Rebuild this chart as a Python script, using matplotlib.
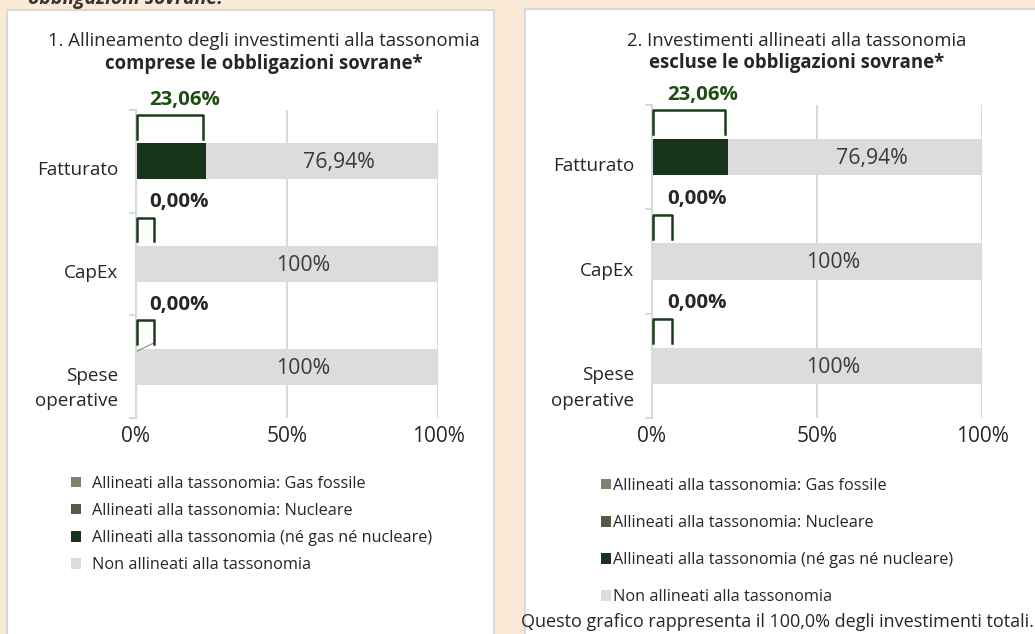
import numpy as np
import matplotlib
matplotlib.use("Agg")
import matplotlib.pyplot as plt
from matplotlib.patches import Rectangle
from matplotlib.transforms import ScaledTranslation

plt.rcParams['font.family'] = ['Open Sans', 'DejaVu Sans']

# dati tassonomia (%)
categorie = ['Fatturato', 'CapEx', 'Spese\noperative']
gas_fossile = [0.0, 0.0, 0.0]
nucleare = [0.0, 0.0, 0.0]
allineati = [23.06, 0.0, 0.0]
non_allineati = [76.94, 100.0, 100.0]

serie = ['Allineati alla tassonomia: Gas fossile',
         'Allineati alla tassonomia: Nucleare',
         'Allineati alla tassonomia (né gas né nucleare)',
         'Non allineati alla tassonomia']
colori = ['#7b8471', '#515c4b', '#17341a', '#dcdcde']

titoli = [('1. Allineamento degli investimenti alla tassonomia', 'comprese le obbligazioni sovrane*'),
          ('2. Investimenti allineati alla tassonomia', 'escluse le obbligazioni sovrane*')]

W, H = 1035, 634
BG = '#fae9d6'
GRIGIO = '#d9d9d9'
VERDE = '#1e4d14'
TESTO = '#262626'


def fx(px):
    return px / W


def fy(py):
    return 1 - py / H


def pct(v):
    if float(v).is_integer():
        return '%d%%' % v
    return ('%.2f%%' % v).replace('.', ',')


def pct2(v):
    return ('%.2f%%' % v).replace('.', ',')


fig = plt.figure(figsize=(W / 100, H / 100), dpi=100, facecolor=BG)

# riquadri bianchi
fig.add_artist(Rectangle((fx(7), -0.02), fx(487), fy(10) + 0.02, transform=fig.transFigure,
                         facecolor='white', edgecolor=GRIGIO, lw=1.5, zorder=-1))
fig.add_artist(Rectangle((fx(525), -0.02), fx(520), fy(9) + 0.02, transform=fig.transFigure,
                         facecolor='white', edgecolor=GRIGIO, lw=1.5, zorder=-1))

fig.text(fx(28), fy(4), 'obbligazioni sovrane.', fontsize=14, fontweight='bold',
         fontstyle='italic', color='#333333', va='baseline')

pannelli = [
    dict(ax=[136, 110, 438, 418], cx=264, t1=41, t2=64, leg=(71, 476), lsp=0.68, htp=0.7),
    dict(ax=[652, 105, 982, 418], cx=797, t1=41, t2=63, leg=(601, 478), lsp=1.3, htp=0.15),
]

for k, p in enumerate(pannelli):
    x0, y0, x1, y1 = p['ax']
    ax = fig.add_axes([fx(x0), fy(y1), fx(x1 - x0), (y1 - y0) / H])
    y = np.arange(len(categorie))
    h = 0.35
    left = np.zeros(len(categorie))
    barre = []
    for vals, col, nome in zip([gas_fossile, nucleare, allineati, non_allineati], colori, serie):
        b = ax.barh(y, vals, left=left, height=h, color=col, lw=0, label=nome, zorder=2)
        barre.append(b)
        left = left + np.array(vals)

    # etichette barre grigie
    for i, v in enumerate(non_allineati):
        xc = allineati[i] + gas_fossile[i] + nucleare[i] + v / 2
        ax.annotate(pct(v), (xc, y[i]), xytext=(12, -1), textcoords='offset points',
                    ha='center', va='center', fontsize=15.3, color='#3a3a3a', zorder=4)

    # callout per la quota allineata
    for i, v in enumerate(allineati):
        w = max(v - 1, 6)
        yb, yt = y[i] - 0.22, y[i] - 0.45
        ax.plot([0.3, 0.3, w, w], [yb, yt, yt, yb], color='#1b3b1b', lw=1.8,
                solid_joinstyle='round', clip_on=False, zorder=3)
        ax.text(4.5, y[i] - 0.6, pct2(v), ha='left', va='center', fontsize=14.7,
                fontweight='bold', color=VERDE if v > 0 else TESTO, zorder=4)
    if k == 0:
        ax.plot([0.3, 5.8], [y[2] - 0.15, y[2] - 0.23], color='#8a8a7a', lw=0.8, clip_on=False)

    ax.set_xlim(0, 100)
    ax.set_ylim(len(categorie) - 0.5, -0.5)
    ax.set_xticks([0, 50, 100])
    ax.set_xticklabels(['0%', '50%', '100%'], fontsize=15, color=TESTO)
    ax.tick_params(axis='x', length=0, pad=6)
    ax.set_yticks(np.arange(len(categorie) + 1) - 0.5)
    ax.set_yticklabels([])
    ax.tick_params(axis='y', which='major', length=5, color=GRIGIO, width=1.5)
    ax.set_yticks(y, minor=True)
    ax.set_yticklabels(categorie, minor=True, fontsize=13.6, color=TESTO, ha='right',
                       multialignment='right', linespacing=1.55)
    ax.tick_params(axis='y', which='minor', length=0, pad=13)
    for lab, dy in zip(ax.get_yticklabels(minor=True), [7, 7, 16]):
        lab.set_transform(lab.get_transform() + ScaledTranslation(0, -dy / 100, fig.dpi_scale_trans))
    ax.grid(axis='x', color=GRIGIO, lw=1.5, zorder=0)
    ax.set_axisbelow(True)
    for s in ['top', 'right', 'bottom']:
        ax.spines[s].set_visible(False)
    ax.spines['left'].set_color(GRIGIO)
    ax.spines['left'].set_linewidth(1.5)
    ax.set_facecolor('none')

    fig.text(fx(p['cx']), fy(p['t1']), titoli[k][0], ha='center', va='center',
             fontsize=13.35, color=TESTO)
    fig.text(fx(p['cx']), fy(p['t2']), titoli[k][1], ha='center', va='center',
             fontsize=13.35, fontweight='bold', color=TESTO)

    lx, ly = p['leg']
    fig.legend(handles=barre, labels=serie, loc='upper left', bbox_to_anchor=(fx(lx), fy(ly)),
               frameon=False, fontsize=11.7, handlelength=0.6, handleheight=0.6,
               handletextpad=p['htp'], labelspacing=p['lsp'], borderpad=0, borderaxespad=0,
               labelcolor=TESTO)

fig.text(fx(521), fy(622), 'Questo grafico rappresenta il 100,0% degli investimenti totali.',
         ha='left', va='center', fontsize=13.0, color=TESTO)

fig.savefig('out.png', dpi=100, facecolor=BG)
